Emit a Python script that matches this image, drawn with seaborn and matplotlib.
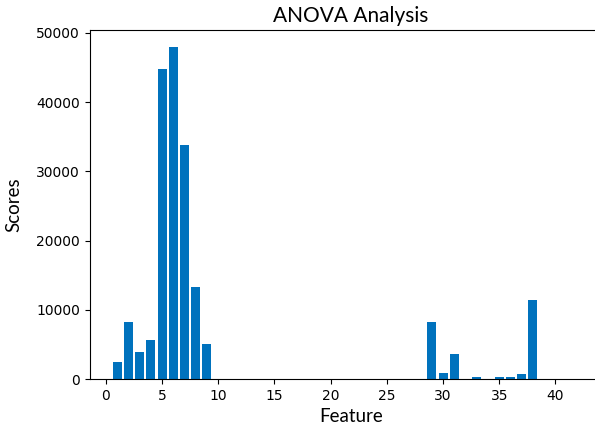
import pandas as pd
import matplotlib
matplotlib.use("Agg")
import matplotlib.pyplot as plt
import seaborn as sns

# feature index and ANOVA F-scores
features = list(range(1, 43))
scores = [2500, 8300, 3900, 5700, 44800, 48000, 33800, 13300, 5000,
          20, 10, 10, 10, 10, 20, 10, 30, 10, 10,
          10, 10, 10, 10, 10, 10, 10, 10, 10,
          8300, 900, 3600, 30, 350, 40, 250, 250, 700, 11400,
          0, 0, 0, 0]

data = pd.DataFrame({"Feature": features, "Scores": scores})

fig = plt.figure(figsize=(5.95, 4.3), dpi=100)
# the source screenshot is cropped on the right, so the axes run past the edge
ax = fig.add_axes([0.151, 0.1186, 0.877, 0.8116])

sns.barplot(data=data, x="Feature", y="Scores", native_scale=True,
            color="#0072bd", saturation=1, width=0.8, ax=ax)

ax.set_xticks([0, 5, 10, 15, 20, 25, 30, 35, 40])
ax.set_xlim(-1.42, 45.0)
ax.set_ylim(0, 50400)
ax.tick_params(labelsize=10)

label_font = ["Lato", "DejaVu Sans"]
ax.set_title("ANOVA Analysis", fontsize=15, family=label_font)
ax.set_xlabel("Feature", fontsize=13.5, family=label_font)
ax.set_ylabel("Scores", fontsize=13.5, family=label_font, labelpad=10)

fig.savefig("out.png", dpi=100)
